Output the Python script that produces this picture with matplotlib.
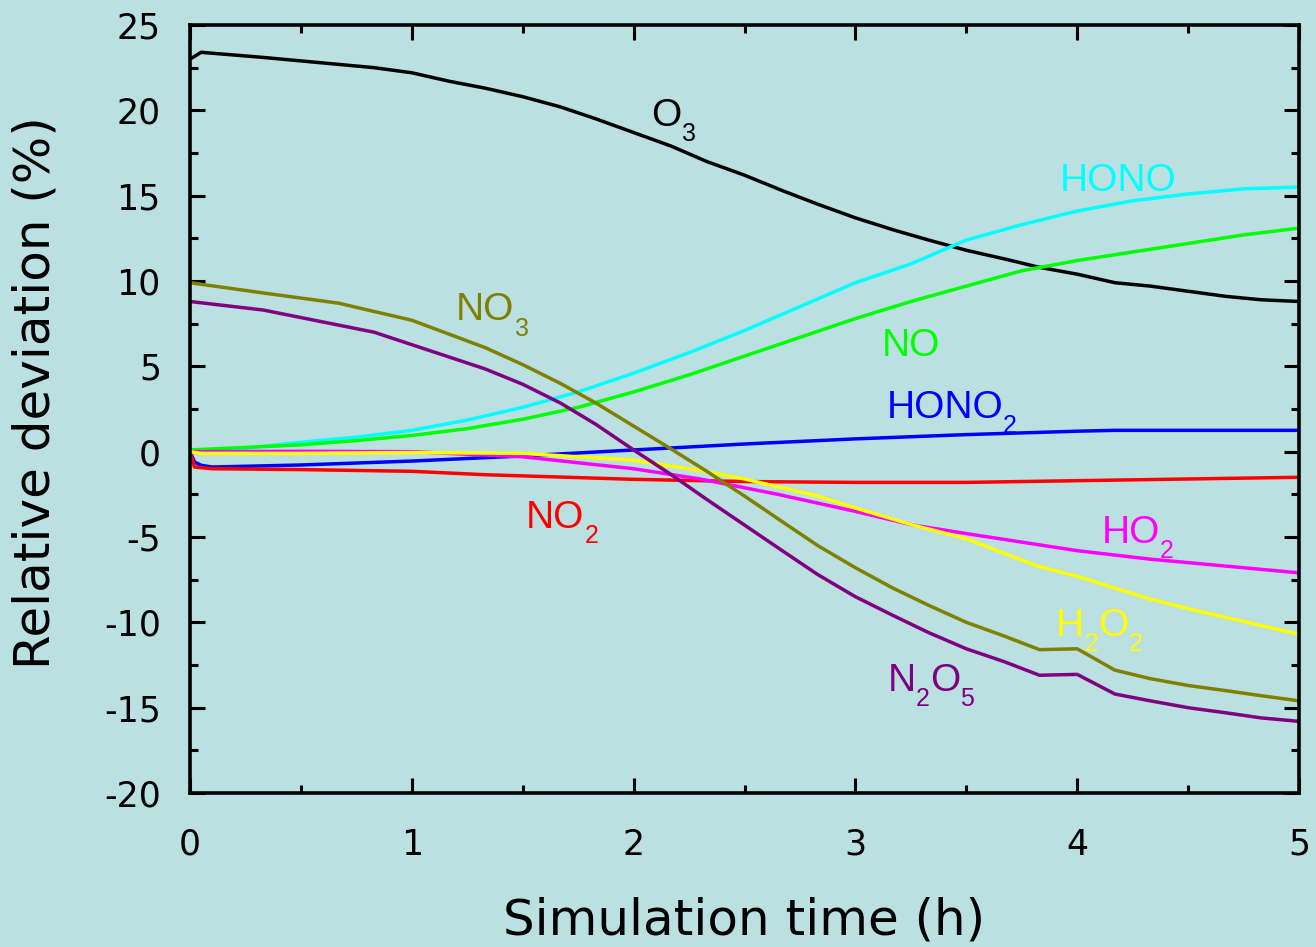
import matplotlib
matplotlib.use('Agg')
import matplotlib.pyplot as plt
from matplotlib.font_manager import FontProperties
from matplotlib.ticker import MultipleLocator

plt.rcParams['axes.unicode_minus'] = False

BG = '#BAE0E2'

# relative deviation (%) of each species vs simulation time (h)
o3_t = [0, 0.05, 0.33, 0.83, 1.0, 1.17, 1.33, 1.5, 1.67, 1.83, 2.0, 2.17, 2.33, 2.5, 2.67,
        2.83, 3.0, 3.17, 3.33, 3.5, 3.67, 3.83, 4.0, 4.17, 4.33, 4.5, 4.67, 4.83, 5.0]
o3 = [23.0, 23.4, 23.1, 22.5, 22.2, 21.7, 21.3, 20.8, 20.2, 19.5, 18.7, 17.9, 17.0, 16.2, 15.3,
      14.5, 13.7, 13.0, 12.4, 11.8, 11.3, 10.8, 10.4, 9.9, 9.7, 9.4, 9.1, 8.9, 8.8]

q_t = [0, 0.25, 0.5, 0.75, 1.0, 1.25, 1.5, 1.75, 2.0, 2.25, 2.5, 2.75, 3.0, 3.25, 3.5,
       3.75, 4.0, 4.25, 4.5, 4.75, 5.0]
hono = [0, 0.2, 0.55, 0.85, 1.25, 1.85, 2.6, 3.5, 4.6, 5.8, 7.1, 8.5, 9.9, 11.0, 12.4,
        13.3, 14.1, 14.7, 15.1, 15.4, 15.5]
no = [0.1, 0.25, 0.4, 0.65, 0.95, 1.35, 1.9, 2.6, 3.5, 4.5, 5.6, 6.7, 7.8, 8.8, 9.7,
      10.6, 11.2, 11.7, 12.2, 12.7, 13.1]

hno3_t = [0, 0.02, 0.05, 0.1, 0.5, 1.0, 1.5, 2.0, 2.5, 3.0, 3.5, 4.0, 4.17, 4.5, 5.0]
hno3 = [0, -0.6, -0.8, -0.9, -0.78, -0.55, -0.25, 0.1, 0.45, 0.75, 1.0, 1.2, 1.25, 1.25, 1.25]

no2_t = [0, 0.02, 0.1, 0.5, 1.0, 1.33, 2.0, 2.5, 3.0, 3.5, 4.0, 4.5, 5.0]
no2 = [0, -0.9, -1.0, -1.05, -1.15, -1.35, -1.62, -1.75, -1.8, -1.8, -1.7, -1.6, -1.5]

ho2_t = [0, 0.5, 1.0, 1.5, 2.0, 2.3, 2.65, 3.0, 3.26, 3.5, 4.0, 4.33, 4.5, 5.0]
ho2 = [0, 0.02, 0.0, -0.3, -1.0, -1.6, -2.5, -3.5, -4.3, -4.8, -5.8, -6.3, -6.5, -7.1]

h2o2_t = [0, 0.05, 0.5, 1.0, 1.5, 2.0, 2.3, 2.5, 2.83, 3.0, 3.26, 3.5, 3.82, 4.0, 4.32, 4.5, 5.0]
h2o2 = [0, -0.1, -0.1, -0.05, -0.1, -0.5, -1.1, -1.6, -2.6, -3.3, -4.3, -5.1, -6.7, -7.3, -8.6,
        -9.2, -10.7]

no3_t = [0, 0.33, 0.67, 1.0, 1.33, 1.5, 1.67, 1.83, 2.0, 2.17, 2.33, 2.5, 2.67, 2.83, 3.0,
         3.17, 3.33, 3.5, 3.67, 3.83, 4.0, 4.17, 4.33, 4.5, 4.67, 4.83, 5.0]
no3 = [9.9, 9.3, 8.7, 7.7, 6.1, 5.1, 4.0, 2.85, 1.5, 0.15, -1.15, -2.6, -4.1, -5.5, -6.8,
       -8.0, -9.0, -10.0, -10.8, -11.6, -11.55, -12.8, -13.3, -13.7, -14.0, -14.3, -14.6]

n2o5_t = [0, 0.33, 0.83, 1.33, 1.5, 1.67, 1.83, 2.0, 2.17, 2.33, 2.5, 2.67, 2.83, 3.0, 3.17,
          3.33, 3.5, 3.67, 3.83, 4.0, 4.17, 4.33, 4.5, 4.67, 4.83, 5.0]
n2o5 = [8.8, 8.3, 7.0, 4.85, 3.95, 2.85, 1.6, 0.1, -1.35, -2.8, -4.3, -5.8, -7.2, -8.5, -9.6,
        -10.6, -11.55, -12.3, -13.1, -13.05, -14.2, -14.6, -15.0, -15.3, -15.6, -15.8]

series = [
    (o3_t, o3, 'black'),
    (q_t, hono, '#00FFFF'),
    (q_t, no, '#00FF00'),
    (hno3_t, hno3, '#0000FF'),
    (no2_t, no2, '#FF0000'),
    (ho2_t, ho2, '#FF00FF'),
    (h2o2_t, h2o2, '#FFFF00'),
    (no3_t, no3, '#808000'),
    (n2o5_t, n2o5, '#800080'),
]

# curve labels: pieces (text, is_subscript), x (h), y (%), colour
labels = [
    ([('O', 0), ('3', 1)], 2.08, 19.1, 'black'),
    ([('HONO', 0)], 3.92, 15.3, '#00FFFF'),
    ([('NO', 0), ('3', 1)], 1.20, 7.7, '#808000'),
    ([('NO', 0)], 3.12, 5.6, '#00FF00'),
    ([('HONO', 0), ('2', 1)], 3.14, 2.0, '#0000FF'),
    ([('NO', 0), ('2', 1)], 1.515, -4.45, '#FF0000'),
    ([('HO', 0), ('2', 1)], 4.11, -5.33, '#FF00FF'),
    ([('H', 0), ('2', 1), ('O', 0), ('2', 1)], 3.905, -10.8, '#FFFF00'),
    ([('N', 0), ('2', 1), ('O', 0), ('5', 1)], 3.147, -14.0, '#800080'),
]

fig = plt.figure(figsize=(13.16, 9.47), dpi=100, facecolor=BG)
ax = fig.add_axes([0.1444, 0.1626, 0.8427, 0.811])
ax.set_facecolor(BG)

for t, v, c in series:
    ax.plot(t, v, color=c, lw=2.5)

ax.set_xlim(0, 5)
ax.set_ylim(-20, 25)

# labels built piece by piece so subscripts sit low like in the original
renderer = fig.canvas.get_renderer()
for parts, x, y, c in labels:
    off = 0.0
    for s, sub in parts:
        size = 18 if sub else 28
        ax.annotate(s, (x, y), xytext=(off, -11 if sub else 0),
                    textcoords='offset points', color=c, fontsize=size,
                    family='Liberation Sans', ha='left', va='baseline')
        fp = FontProperties(family='Liberation Sans', size=size)
        w, _, _ = renderer.get_text_width_height_descent(s, fp, ismath=False)
        off += w * 72 / fig.dpi

ax.xaxis.set_major_locator(MultipleLocator(1))
ax.xaxis.set_minor_locator(MultipleLocator(0.5))
ax.yaxis.set_major_locator(MultipleLocator(5))
ax.yaxis.set_minor_locator(MultipleLocator(2.5))

for s in ax.spines.values():
    s.set_linewidth(2.6)
ax.tick_params(which='both', direction='in', top=True, right=True, width=2.2)
ax.tick_params(which='major', length=11)
ax.tick_params(which='minor', length=6)
ax.tick_params(axis='x', which='major', labelsize=25, pad=25)
ax.tick_params(axis='y', which='major', labelsize=25, pad=21)

ax.set_xlabel('Simulation time (h)', fontsize=36)
ax.set_ylabel('Relative deviation (%)', fontsize=36)
ax.xaxis.set_label_coords(0.5, -0.135)
ax.yaxis.set_label_coords(-0.118, 0.521)

fig.savefig('out.png', dpi=100, facecolor=BG)
